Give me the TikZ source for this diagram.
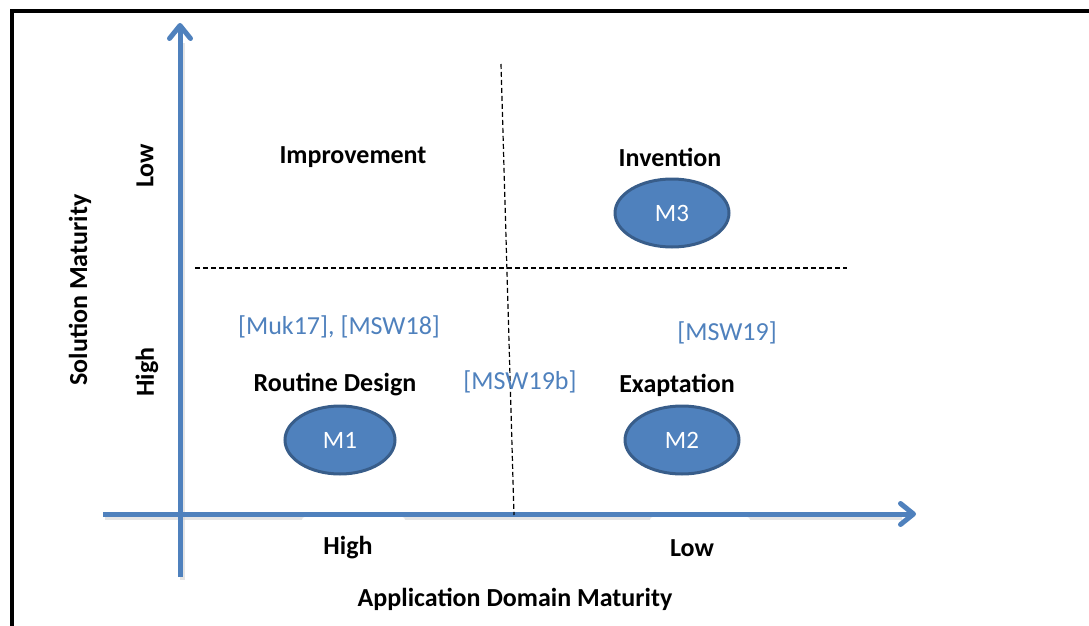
\documentclass[tikz,border=0pt]{standalone}
\usepackage{fontspec}
\setmainfont{Carlito}
\usetikzlibrary{arrows.meta,shapes.geometric}
\definecolor{axisblue}{HTML}{4F81BD}
\definecolor{ringblue}{HTML}{385D8A}
\begin{document}
\begin{tikzpicture}[x=1pt,y=-1pt,
  axis/.style={line width=5pt,draw=axisblue,
    -{Straight Barb[length=13pt,width=21pt,line cap=round,line join=round]}},
  axisshadow/.style={line width=5pt,draw=black!20,opacity=0.5},
  quad/.style={font=\fontsize{26}{30}\selectfont\bfseries,text=black,inner sep=0pt},
  cite/.style={font=\fontsize{26}{30}\selectfont,text=axisblue,inner sep=0pt},
  mnode/.style={ellipse,fill=axisblue,draw=ringblue,line width=3pt,
    minimum width=114pt,minimum height=68pt,inner sep=0pt,
    text=white,font=\fontsize{25}{30}\selectfont},
  divider/.style={draw=black,line width=1.2pt,dash pattern=on 5pt off 3pt}]
\useasboundingbox (0,0) rectangle (1089,626);
% outer frame
\draw[line width=4pt] (12,630) -- (12,11.5) -- (1095,11.5);
% axis end points
\coordinate (yb) at (180,577);
\coordinate (yt) at (180,23);
\coordinate (xl) at (103,514);
\coordinate (xr) at (916,514);
% soft shadows of the axes
\draw[axisshadow] ([shift={(2,3)}]yb) -- ([shift={(2,3)}]180,40);
\draw[axisshadow] ([shift={(2,3)}]xl) -- ([shift={(2,3)}]900,514);
\fill[white,rounded corners=3pt] (302,517) rectangle (405,524);
\fill[white,rounded corners=3pt] (650,517) rectangle (750,524);
% axes
\draw[axis] (yb) -- (yt);
\draw[axis] (xl) -- (xr);
% quadrant dividers
\coordinate (vt) at (501,64);
\coordinate (vb) at (514,515);
\coordinate (hl) at (195,268);
\coordinate (hr) at (847,268);
\draw[divider] (vt) -- (vb);
\draw[divider] (hl) -- (hr);
% quadrant titles
\node[quad] (improve) at (353,157) {Improvement};
\node[quad] (invent) at (670,157) {Invention};
\node[quad] (routine) at (335,385) {Routine Design};
\node[quad] (exapt) at (677,385) {Exaptation};
% references
\node[cite] (c1) at (339,327) {[Muk17], [MSW18]};
\node[cite] (c2) at (727,333) {[MSW19]};
\node[cite] (c3) at (520,382) {[MSW19b]};
% methods
\node[mnode] (m3) at (672,213) {M3};
\node[mnode] (m2) at (682,440) {M2};
\node[mnode,minimum width=110pt] (m1) at (340,440) {M1};
% axis labels
\node[quad] (xhigh) at (348,548) {High};
\node[quad] (xlow) at (692,548) {Low};
\node[quad] (xlab) at (515,599) {Application Domain Maturity};
\node[quad,rotate=90] (ylab) at (80,290) {Solution Maturity};
\node[quad,rotate=90] (ylow) at (145,166) {Low};
\node[quad,rotate=90] (yhigh) at (147,372) {High};
\end{tikzpicture}
\end{document}
